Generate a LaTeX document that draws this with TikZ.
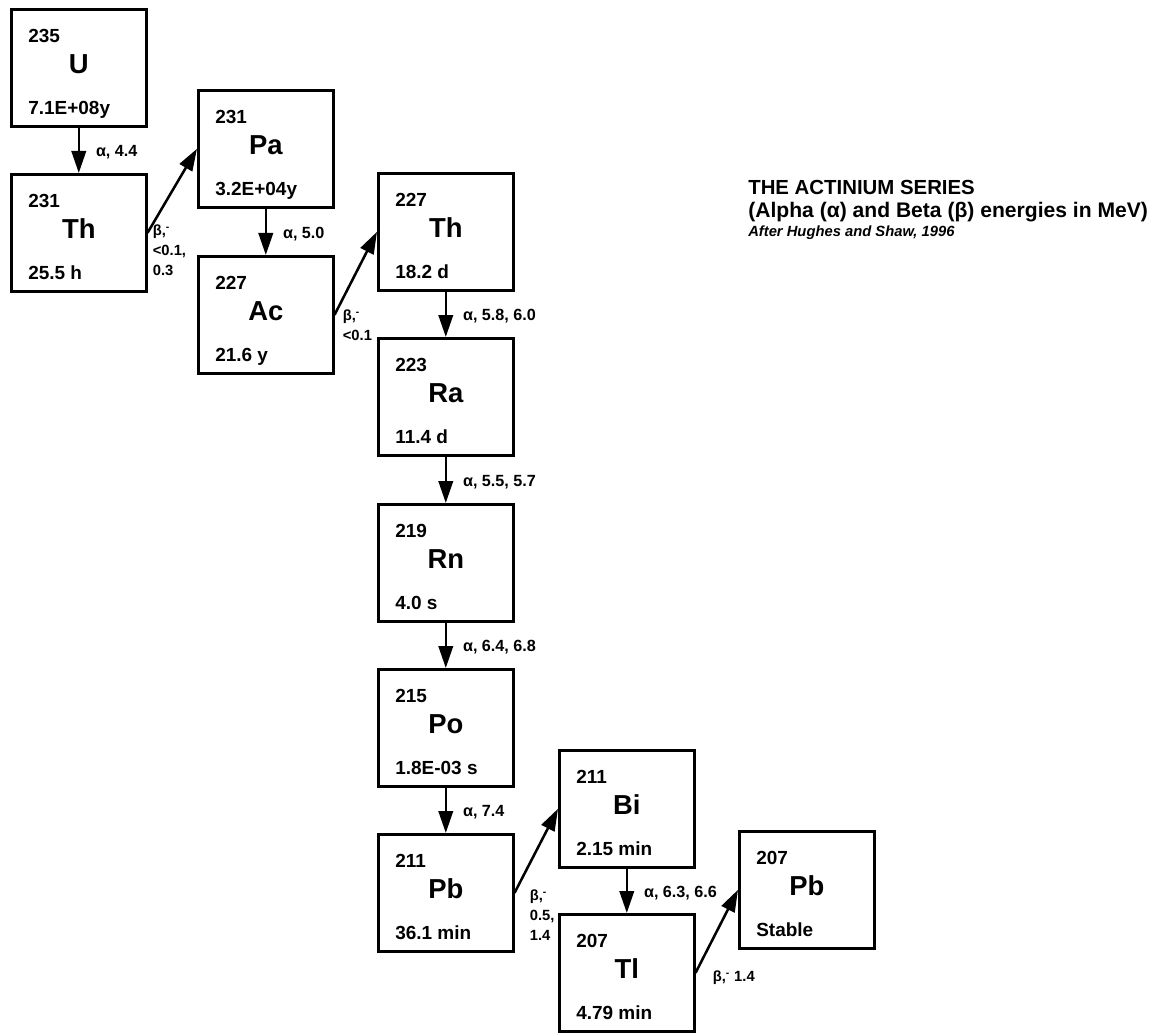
\documentclass[tikz,border=0pt]{standalone}
\usepackage{fontspec}
\setmainfont{Liberation Sans}
\usetikzlibrary{arrows.meta}

\begin{document}
\begin{tikzpicture}[x=0.025cm, y=-0.025cm,
  iso/.style={draw, line width=1.8pt, minimum width=3.375cm, minimum height=2.925cm, anchor=north west, inner sep=0pt},
  num/.style={inner sep=0pt, anchor=base west, font=\bfseries\fontsize{13.5}{15}\selectfont},
  sym/.style={inner sep=0pt, anchor=base, font=\bfseries\fontsize{19.5}{21}\selectfont},
  decay/.style={line width=1.8pt, -{Triangle[length=5.5mm,width=3.6mm]}},
  elab/.style={inner sep=0pt, anchor=west, xshift=0.4cm, yshift=-1.5pt, font=\bfseries\fontsize{11.5}{13}\selectfont},
  blab/.style={inner sep=0pt, anchor=north west, align=left, font=\bfseries\fontsize{10.5}{14}\selectfont}]
  \useasboundingbox (0,0) rectangle (1154,1032);
  % nuclides: name/x/y/mass/symbol/half-life
  \foreach \n/\x/\y/\m/\s/\t in {u/10/8/235/U/7.1E+08y, th1/10/173/231/Th/25.5 h,
      pa/197/89/231/Pa/3.2E+04y, ac/197/255/227/Ac/21.6 y,
      th2/377/172/227/Th/18.2 d, ra/377/337/223/Ra/11.4 d,
      rn/377/503/219/Rn/4.0 s, po/377/668/215/Po/1.8E-03 s,
      pb1/377/833/211/Pb/36.1 min, bi/558/749/211/Bi/2.15 min,
      tl/558/913/207/Tl/4.79 min, pb2/738/830/207/Pb/Stable} {
    \node[iso] (\n) at (\x,\y) {};
    \node[num] (\n-m) at ([shift={(18,34)}]\n.north west) {\m};
    \node[sym] (\n-s) at ([shift={(0,6)}]\n.center) {\s};
    \node[num] (\n-t) at ([shift={(18,106)}]\n.north west) {\t};
  }
  % alpha decays
  \draw[decay] (u.south) -- (th1.north) node[elab, midway] (a1) {α, 4.4};
  \draw[decay] (pa.south) -- (ac.north) node[elab, midway] (a2) {α, 5.0};
  \draw[decay] (th2.south) -- (ra.north) node[elab, midway] (a3) {α, 5.8, 6.0};
  \draw[decay] (ra.south) -- (rn.north) node[elab, midway] (a4) {α, 5.5, 5.7};
  \draw[decay] (rn.south) -- (po.north) node[elab, midway] (a5) {α, 6.4, 6.8};
  \draw[decay] (po.south) -- (pb1.north) node[elab, midway] (a6) {α, 7.4};
  \draw[decay] (bi.south) -- (tl.north) node[elab, midway] (a7) {α, 6.3, 6.6};
  % beta decays
  \draw[decay] (th1.east) -- (pa.west);
  \node[blab] (b1) at ([shift={(5,-8)}]th1.east) {β,\textsuperscript{-}\\<0.1,\\0.3};
  \draw[decay] (ac.east) -- (th2.west);
  \node[blab] (b2) at ([shift={(8,-5)}]ac.east) {β,\textsuperscript{-}\\<0.1};
  \draw[decay] (pb1.east) -- (bi.west);
  \node[blab] (b3) at ([shift={(15,-3)}]pb1.east) {β,\textsuperscript{-}\\0.5,\\1.4};
  \draw[decay] (tl.east) -- (pb2.west);
  \node[blab, anchor=west] (b4) at ([shift={(17,5)}]tl.east) {β,\textsuperscript{-} 1.4};
  % title
  \node[anchor=base west, inner sep=0pt, font=\bfseries\fontsize{14.5}{17}\selectfont] (title) at (748,194) {THE ACTINIUM SERIES};
  \node[anchor=base west, inner sep=0pt, font=\bfseries\fontsize{15}{17}\selectfont] (sub) at (748,217) {(Alpha (α) and Beta (β) energies in MeV)};
  \node[anchor=base west, inner sep=0pt, font=\bfseries\itshape\fontsize{10.5}{12}\selectfont] (src) at (748,236) {After Hughes and Shaw, 1996};
\end{tikzpicture}
\end{document}
